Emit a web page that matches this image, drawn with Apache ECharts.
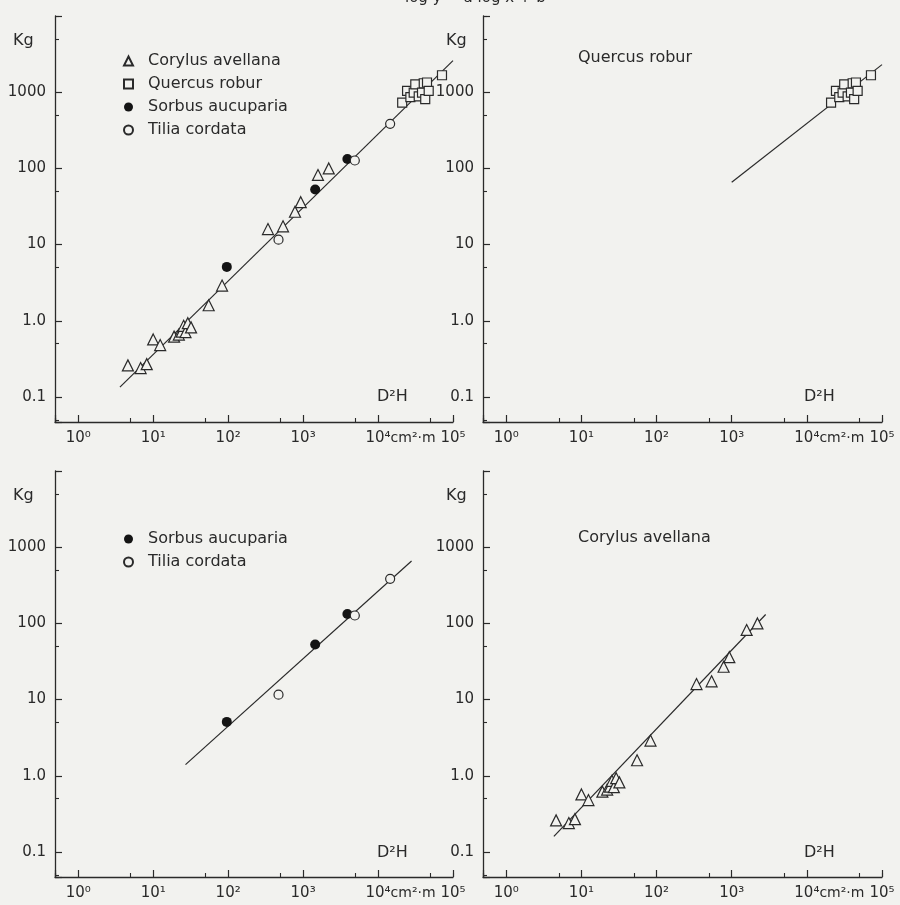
<!DOCTYPE html>
<html><head><meta charset="utf-8">
<script src="https://cdn.jsdelivr.net/npm/echarts@6/dist/echarts.min.js"></script>
<style>html,body{margin:0;padding:0;background:#f2f2ef;}#c{width:900px;height:905px;}</style>
</head><body><div id="c"></div>
<script>
// ---- data ----
const speciesNames = ['Corylus avellana', 'Quercus robur', 'Sorbus aucuparia', 'Tilia cordata'];
const corylus = [[4.6,0.26],[6.8,0.24],[8.2,0.27],[10,0.57],[12.4,0.48],[19,0.62],[22,0.66],[24,0.72],[25.5,0.86],[27,0.71],[29,0.93],[32,0.82],[55,1.6],[83,2.9],[340,16],[540,17.4],[780,27],[930,36],[1580,82],[2200,100]];
const quercus = [[21000,730],[24400,1040],[27000,860],[29900,990],[31400,1270],[34900,880],[38600,990],[40700,1310],[42600,810],[45000,1340],[47400,1040],[71300,1670]];
const sorbus = [[96,5.1],[1450,53],[3900,133]];
const tilia = [[470,11.6],[4900,127],[14500,385]];
const lineAll = [[3.6,0.135],[100000,2600]];
const lineQuercus = [[1000,66],[100000,2300]];
const lineSorbusTilia = [[27,1.4],[28000,660]];
const lineCorylus = [[4.3,0.16],[2830,131]];
const xTickLabels = {'0':'10⁰','1':'10¹','2':'10²','3':'10³','4':'10⁴','5':'10⁵'};
const yTickLabels = {'-1':'0.1','0':'1.0','1':'10','2':'100','3':'1000'};
const xUnit = 'cm²·m';
const xRange = [0.49, 100000];
const yRange = [0.047, 10000];

// ---- styling / layout ----
const ink = '#2a2a2a';
const bg = '#f2f2ef';
const font = 'DejaVu Sans';
const grids = [
  {left:55, top:16, width:398, height:406},
  {left:483, top:16, width:399, height:406},
  {left:55, top:471, width:398, height:406},
  {left:483, top:471, width:399, height:406}
];
function lg(v){ return Math.round(Math.log10(v)*1000)/1000; }
function fx(v){
  const e = lg(v);
  if (Math.abs(e - Math.round(e)) > 1e-3) return '';
  const k = String(Math.round(e));
  if (!(k in xTickLabels)) return '';
  if (k === '4') return '{g|' + xUnit + '}' + xTickLabels[k] + '{u|' + xUnit + '}';
  return xTickLabels[k];
}
function fy(v){
  const e = lg(v);
  if (Math.abs(e - Math.round(e)) > 1e-3) return '';
  const k = String(Math.round(e));
  return (k in yTickLabels) ? yTickLabels[k] : '';
}
const xAxis = [], yAxis = [];
grids.forEach((g, i) => {
  xAxis.push({type:'log', gridIndex:i, min:xRange[0], max:xRange[1], position:'bottom',
    axisLine:{show:true, lineStyle:{color:ink, width:1.3}},
    axisTick:{show:true, inside:true, length:7, lineStyle:{color:ink, width:1.2}},
    axisLabel:{formatter:fx, margin:9, color:ink, fontSize:15, fontFamily:font,
      rich:{g:{color:'rgba(0,0,0,0)', fontSize:14, fontFamily:font}, u:{color:ink, fontSize:14, fontFamily:font}}},
    splitLine:{show:false}});
  xAxis.push({type:'log', gridIndex:i, min:xRange[0]/5, max:xRange[1]/5, position:'bottom',
    axisLine:{show:false}, axisTick:{show:true, inside:true, length:4, lineStyle:{color:ink, width:1.1}},
    axisLabel:{show:false}, splitLine:{show:false}});
  yAxis.push({type:'log', gridIndex:i, min:yRange[0], max:yRange[1], position:'left',
    axisLine:{show:true, lineStyle:{color:ink, width:1.3}},
    axisTick:{show:true, inside:true, length:7, lineStyle:{color:ink, width:1.2}},
    axisLabel:{formatter:fy, margin:9, color:ink, fontSize:15, fontFamily:font},
    splitLine:{show:false}});
  yAxis.push({type:'log', gridIndex:i, min:yRange[0]/5, max:yRange[1]/5, position:'left',
    axisLine:{show:false}, axisTick:{show:true, inside:true, length:4, lineStyle:{color:ink, width:1.1}},
    axisLabel:{show:false}, splitLine:{show:false}});
});

const markStyle = {
  'Corylus avellana': {symbol:'triangle', symbolSize:11, itemStyle:{color:bg, borderColor:ink, borderWidth:1.2, opacity:1}},
  'Quercus robur': {symbol:'rect', symbolSize:9, itemStyle:{color:bg, borderColor:ink, borderWidth:1.2, opacity:1}},
  'Sorbus aucuparia': {symbol:'circle', symbolSize:10, itemStyle:{color:'#141414', borderColor:'#141414', borderWidth:0, opacity:1}},
  'Tilia cordata': {symbol:'circle', symbolSize:9, itemStyle:{color:bg, borderColor:ink, borderWidth:1.2, opacity:1}}
};
function scatter(name, data, g){
  return Object.assign({type:'scatter', name:name, data:data, xAxisIndex:2*g, yAxisIndex:2*g, z:3, silent:true}, markStyle[name]);
}
function fitLine(data, g){
  return {type:'line', data:data, xAxisIndex:2*g, yAxisIndex:2*g, symbol:'none', silent:true, z:2,
    lineStyle:{color:ink, width:1.2}};
}
const series = [
  fitLine(lineAll, 0), fitLine(lineQuercus, 1), fitLine(lineSorbusTilia, 2), fitLine(lineCorylus, 3),
  scatter('Corylus avellana', corylus, 0), scatter('Quercus robur', quercus, 0),
  scatter('Sorbus aucuparia', sorbus, 0), scatter('Tilia cordata', tilia, 0),
  scatter('Quercus robur', quercus, 1),
  scatter('Sorbus aucuparia', sorbus, 2), scatter('Tilia cordata', tilia, 2),
  scatter('Corylus avellana', corylus, 3)
];

const ts = {color:ink, fontSize:15, fontWeight:'normal', fontFamily:font};
const ts16 = {color:ink, fontSize:16, fontWeight:'normal', fontFamily:font};
const title = [
  {text:'log y = a log x + b', left:405, top:-9, padding:0, textStyle:ts},
  {text:'Kg', left:13, top:33, padding:0, textStyle:ts16},
  {text:'Kg', left:446, top:33, padding:0, textStyle:ts16},
  {text:'Kg', left:13, top:488, padding:0, textStyle:ts16},
  {text:'Kg', left:446, top:488, padding:0, textStyle:ts16},
  {text:'D²H', left:377, top:389, padding:0, textStyle:ts16},
  {text:'D²H', left:804, top:389, padding:0, textStyle:ts16},
  {text:'D²H', left:377, top:845, padding:0, textStyle:ts16},
  {text:'D²H', left:804, top:845, padding:0, textStyle:ts16},
  {text:'Quercus robur', left:578, top:50, padding:0, textStyle:ts16},
  {text:'Corylus avellana', left:578, top:530, padding:0, textStyle:ts16}
];
const legendBase = {orient:'vertical', left:123, itemWidth:9, itemHeight:9, itemGap:5, padding:0,
  textStyle:{color:ink, fontSize:16, fontFamily:font, lineHeight:18, padding:[0,0,0,10]}, selectedMode:false};
const legend = [
  Object.assign({}, legendBase, {top:52, data:speciesNames}),
  Object.assign({}, legendBase, {top:530, data:[speciesNames[2], speciesNames[3]]})
];

const chart = echarts.init(document.getElementById('c'), null, {renderer:'canvas'});
chart.setOption({backgroundColor:bg, animation:false, grid:grids, xAxis:xAxis, yAxis:yAxis, series:series, title:title, legend:legend});
</script></body></html>
